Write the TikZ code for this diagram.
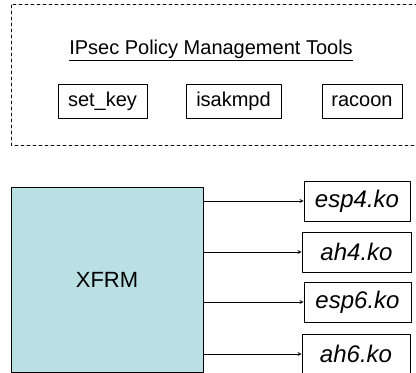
\documentclass[tikz,border=0pt]{standalone}
\usepackage{fontspec}
\setmainfont{Liberation Sans}
\usetikzlibrary{arrows}

\tikzset{
  toolbox/.style={draw=black,line width=0.8pt,inner sep=0pt,minimum height=34pt,font=\fontsize{20}{24}\selectfont},
  modbox/.style={draw=black,line width=0.8pt,inner sep=0pt,minimum height=40pt,font=\fontsize{24}{28}\selectfont\itshape}
}
\definecolor{xfrmfill}{RGB}{186,224,228}

\begin{document}
\begin{tikzpicture}[line cap=round,line join=round,>=stealth,x=1pt,y=-1pt]
	\useasboundingbox (0,0) rectangle (416,373);
	\clip (0,0) rectangle (416,373);
	% policy tools
	\draw [line width=0.8pt,dash pattern=on 3pt off 3pt] (430,4) -- (11,4) -- (11,145) -- (430,145);
	\node[font=\fontsize{20}{24}\selectfont] (title) at (211,50) {\underline{IPsec Policy Management Tools}};
	\node[toolbox,minimum width=89pt] (setkey) at (102.5,101) {set\_key};
	\node[toolbox,minimum width=95pt] (isakmpd) at (233.5,101) {isakmpd};
	\node[toolbox,minimum width=80pt] (racoon) at (362,101) {racoon};
	% kernel side
	\node[draw=black,line width=0.8pt,fill=xfrmfill,inner sep=0pt,minimum width=192pt,minimum height=185pt,font=\fontsize{22}{26}\selectfont] (xfrm) at (107,279.5) {XFRM};
	\node[modbox,minimum width=106pt] (esp4) at (357,201) {esp4.ko};
	\node[modbox,minimum width=109pt] (ah4) at (356.5,252) {ah4.ko};
	\node[modbox,minimum width=107pt] (esp6) at (357.5,302) {esp6.ko};
	\node[modbox,minimum width=108pt] (ah6) at (356,354) {ah6.ko};
	\foreach \m in {esp4,ah4,esp6,ah6}
		\draw [->,line width=0.8pt] (\m.west -| xfrm.east) -- (\m.west);
\end{tikzpicture}
\end{document}
